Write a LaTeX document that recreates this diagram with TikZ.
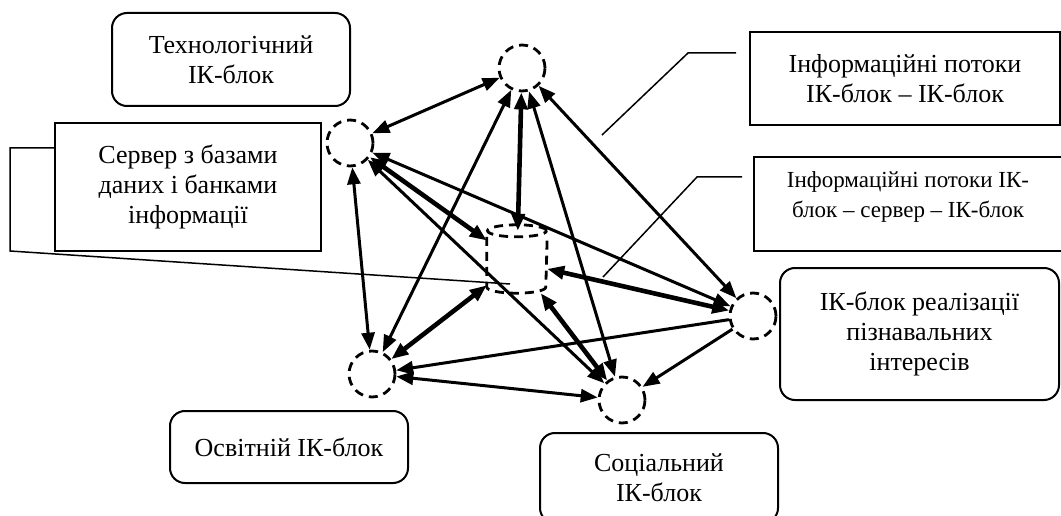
\documentclass[tikz,border=0pt]{standalone}
\usepackage{fontspec}
\setmainfont{Liberation Serif}
\usetikzlibrary{arrows.meta}
\begin{document}
\begin{tikzpicture}[x=1pt,y=-1pt,
  box/.style={draw,line width=2pt,align=center,inner sep=0pt,font=\fontsize{26}{30}\selectfont},
  rbox/.style={box,rounded corners=15pt},
  hub/.style={draw,circle,line width=2.8pt,minimum size=46pt,inner sep=0pt,dash pattern=on 9pt off 6pt},
  dashline/.style={line width=2.8pt,dash pattern=on 9pt off 6pt},
  link/.style={line width=3pt,{Triangle[length=17pt,width=13pt]}-{Triangle[length=17pt,width=13pt]}},
  onelink/.style={line width=3pt,-{Triangle[length=17pt,width=13pt]}},
  heavylink/.style={link,line width=4.6pt},
  call/.style={line width=1.5pt}]
\useasboundingbox (0,0) rectangle (1061,516);

% boxes
\node[rbox,minimum width=238pt,minimum height=93pt] (tech) at (231,59.5) {Технологічний\\ІК-блок};
\node[box,minimum width=266pt,minimum height=128pt] (srv) at (188,187) {Сервер з базами\\даних і банками\\інформації};
\node[box,minimum width=310pt,minimum height=93pt] (inf1) at (905,78.5) {Інформаційні потоки\\ІК-блок – ІК-блок};
\node[box,minimum width=308pt,minimum height=94pt] (inf2) at (908,204) {};
\node[align=center,inner sep=0pt,font=\fontsize{23}{30}\selectfont] (inf2text) at (908,197) {Інформаційні потоки ІК-\\блок – сервер – ІК-блок};
\node[rbox,minimum width=279pt,minimum height=132pt] (cog) at (919.5,334) {ІК-блок реалізації\\пізнавальних\\інтересів};
\node[rbox,minimum width=238pt,minimum height=72pt] (edu) at (289,447) {Освітній ІК-блок};
\node[rbox,minimum width=238pt,minimum height=90pt] (soc) at (659,478) {Соціальний\\ІК-блок};

% hubs
\node[hub] (T) at (522,68) {};
\node[hub] (L) at (350,143) {};
\node[hub] (R) at (753,316) {};
\node[hub] (B) at (372,374) {};
\node[hub] (So) at (622,400) {};
% server cylinder
\node[minimum width=60pt,minimum height=62pt,inner sep=0pt] (S) at (517,262) {};
\draw[dashline] (S.north) ellipse [x radius=29.5pt,y radius=6pt];
\draw[dashline] ([yshift=-6pt]S.north west) -- ([yshift=6pt]S.south west)
  arc[start angle=180,end angle=360,x radius=29.5pt,y radius=6pt]
  -- ([yshift=-6pt]S.north east);

% callouts
\coordinate (a1) at (10,148);
\coordinate (a2) at (10,251);
\coordinate (a3) at (510,284);
\draw[call] (srv.west |- a1) -- (a1) -- (a2) -- (a3);
\coordinate (b1) at (736,53);
\coordinate (b2) at (688,53);
\coordinate (b3) at (602,135);
\draw[call] (b1) -- (b2) -- (b3);
\coordinate (d1) at (742,177);
\coordinate (d2) at (697,177);
\coordinate (d3) at (603,277);
\draw[call] (d1) -- (d2) -- (d3);

% block-to-block flows
\draw[link] (T) -- (L);
\draw[link] (T) -- (B);
\draw[link] (T) -- (So);
\draw[link] (T) -- (R);
\draw[link] (L) -- (B);
\draw[link] (L) -- (So);
\draw[link] (L) -- (R);
\draw[link] (B) -- (So);
\draw[onelink] (R) -- (B);
\draw[onelink] (R) -- (So);

% flows via server
\draw[heavylink] (S) -- (T);
\draw[heavylink] (S) -- (L);
\draw[heavylink] (S) -- (R);
\draw[heavylink] (S) -- (B);
\draw[heavylink] (S) -- (So);
\end{tikzpicture}
\end{document}
